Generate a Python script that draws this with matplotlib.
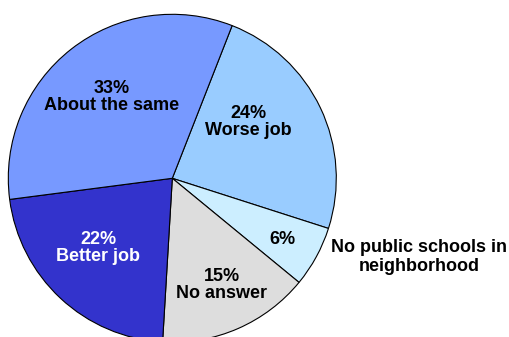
import matplotlib.pyplot as plt

plt.rcParams['font.family'] = ['Liberation Sans', 'DejaVu Sans']

labels = ["Worse job", "", "No answer", "Better job", "About the same"]
values = [24, 6, 15, 22, 33]
colors = ["#99ccff", "#cceeff", "#dddddd", "#3333cc", "#7799ff"]
text_colors = ["black", "black", "black", "white", "black"]
outside_label = "No public schools in\nneighborhood"

W, H = 509, 337
fig = plt.figure(figsize=(W / 100, H / 100), dpi=100)
ax = fig.add_axes([0, 0, 1, 1])

# pie laid out in pixel units, y pointing up
cx, cy, r = 172.3, H - 178.3, 164
wedges, _ = ax.pie(values, colors=colors, startangle=68.6, counterclock=False,
                   center=(cx, cy), radius=r,
                   wedgeprops=dict(edgecolor="black", linewidth=0.8))

# label anchor points (pixel coords from top-left)
label_pos = [(248, 122), (282, 239), (222, 285), (98, 248), (112, 97)]
for lab, v, (x, y), c in zip(labels, values, label_pos, text_colors):
    txt = f"{v}%" if not lab else f"{v}%\n{lab}"
    ax.text(x, H - y, txt, ha="center", va="center", fontsize=13,
            fontweight="bold", color=c, linespacing=1.0)

ax.text(419, H - 257, outside_label, ha="center", va="center", fontsize=13,
        fontweight="bold", color="black", linespacing=1.15)

ax.set_xlim(0, W)
ax.set_ylim(0, H)
ax.axis("off")
fig.savefig("out.png", dpi=100)
